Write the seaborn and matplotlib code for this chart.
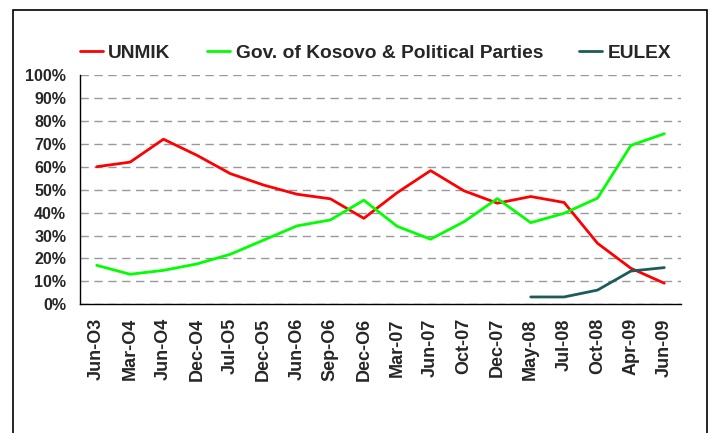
import numpy as np
import pandas as pd
import matplotlib.pyplot as plt
from matplotlib.patches import Rectangle
from matplotlib.ticker import FixedLocator
import seaborn as sns

# Datos
periodos = ["Jun-O3", "Mar-O4", "Jun-O4", "Dec-O4", "Jul-O5", "Dec-O5", "Jun-O6", "Sep-O6",
            "Dec-O6", "Mar-07", "Jun-07", "Oct-07", "Dec-07", "May-08", "Jul-08", "Oct-08",
            "Apr-09", "Jun-09"]
unmik = [60, 62, 72, 65, 57, 52, 48, 46, 37.5, 48.7, 58.3, 49.5, 44.1, 47, 44.4, 26.6, 15.7, 9.2]
gobierno = [17, 13.1, 14.8, 17.6, 21.8, 28, 34.2, 36.8, 45.4, 34, 28.4, 36, 46.1, 35.6, 39.7,
            46.3, 69.3, 74.4]
eulex = [np.nan] * 13 + [3.2, 3.2, 6.2, 14.5, 16]

series = ["UNMIK", "Gov. of Kosovo & Political Parties", "EULEX"]
colores = ["#FF0000", "#00FF00", "#1D5B5B"]

df = pd.DataFrame({"pos": range(len(periodos)), "UNMIK": unmik,
                   "Gov. of Kosovo & Political Parties": gobierno, "EULEX": eulex})
df_long = df.melt(id_vars="pos", var_name="serie", value_name="valor").dropna()

sns.set_style("white")
plt.rcParams["font.family"] = ["Liberation Sans", "DejaVu Sans"]
plt.rcParams["font.weight"] = "bold"

fig = plt.figure(figsize=(7.1, 4.33), dpi=100)
ax = fig.add_axes([80 / 710, 1 - 304.3 / 433, 601 / 710, 229.3 / 433])

sns.lineplot(data=df_long, x="pos", y="valor", hue="serie", hue_order=series,
             palette=colores, linewidth=2, ax=ax, legend=True)

ax.set_xlim(-0.5, len(periodos) - 0.5)
ax.set_ylim(0, 100)
ax.set_yticks(range(0, 101, 10))
ax.set_yticklabels([f"{v}%" for v in range(0, 101, 10)], fontsize=11.5, fontweight="bold")
ax.set_xticks(range(len(periodos)))
ax.set_xticklabels(periodos, rotation=90, fontsize=13, fontweight="bold")
ax.xaxis.set_minor_locator(FixedLocator(np.arange(-0.5, len(periodos), 1)))
ax.tick_params(axis="x", which="major", length=0, pad=10)
ax.tick_params(axis="x", which="minor", length=5, width=1, color="black", direction="out")
ax.tick_params(axis="y", length=4, width=1, color="black", direction="out", pad=6)
ax.set_xlabel("")
ax.set_ylabel("")

# Líneas de cuadrícula discontinuas
ax.yaxis.grid(True, linestyle=(0, (6, 4)), color="#999999", linewidth=1)
ax.set_axisbelow(True)
for lado in ["top", "right"]:
    ax.spines[lado].set_visible(False)
for lado in ["left", "bottom"]:
    ax.spines[lado].set_color("black")
    ax.spines[lado].set_linewidth(1)

handles, labels = ax.get_legend_handles_labels()
ax.legend(handles, labels, loc="center left", bbox_to_anchor=(80 / 710, 1 - 53 / 433),
          bbox_transform=fig.transFigure, ncol=3, frameon=False,
          prop={"weight": "bold", "size": 13.8}, handlelength=1.2, handletextpad=0.28,
          columnspacing=1.9, borderaxespad=0, borderpad=0)

# Marco del gráfico
fig.patches.append(Rectangle((13 / 710, -0.05), 694 / 710, 1.05 - 10 / 433,
                             transform=fig.transFigure, fill=False,
                             edgecolor="black", linewidth=1.2))

fig.savefig("out.png", dpi=100)
